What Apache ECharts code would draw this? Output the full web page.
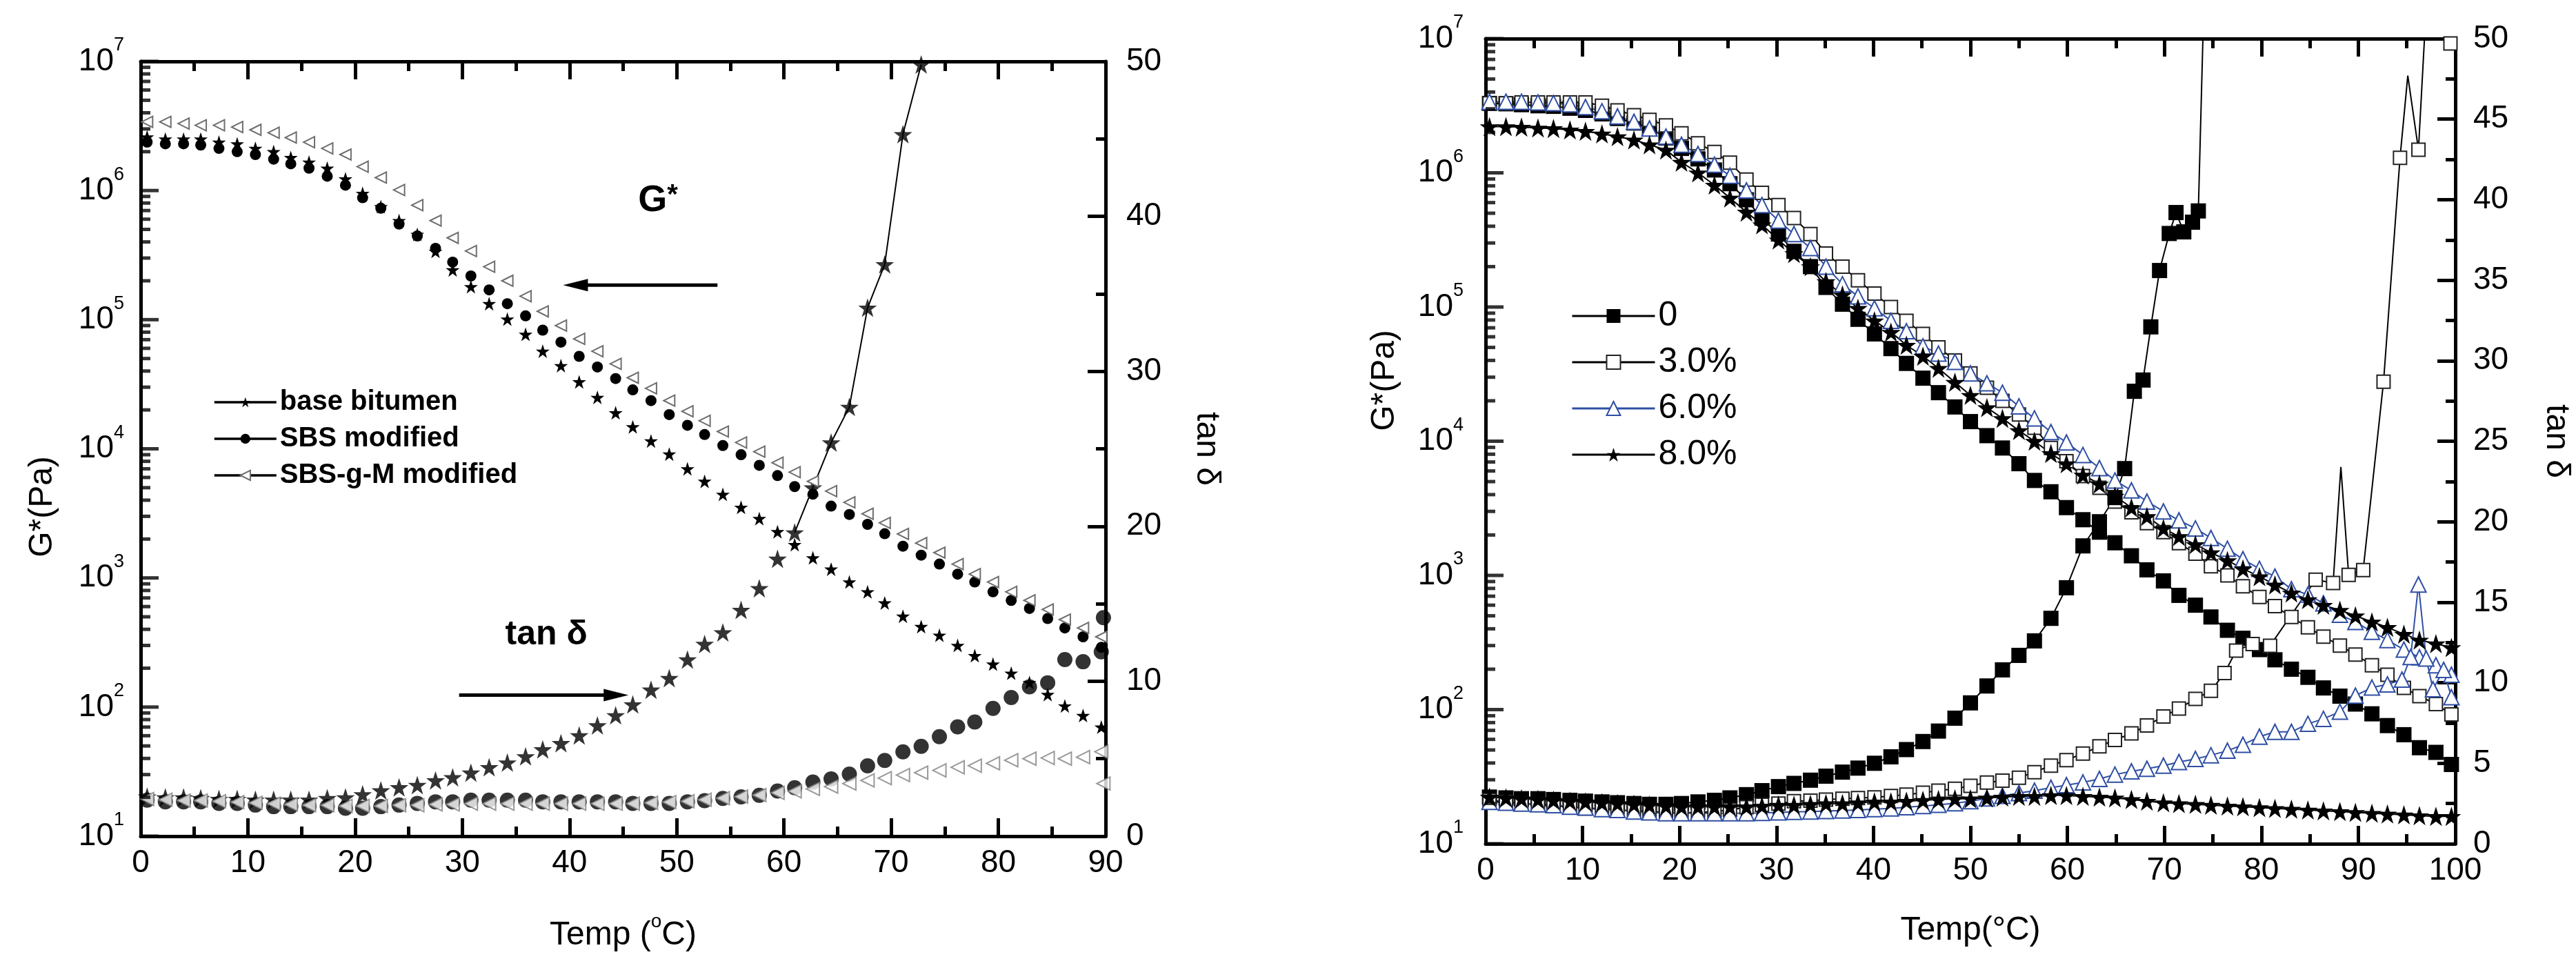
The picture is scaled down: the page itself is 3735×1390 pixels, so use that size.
<!DOCTYPE html>
<html>
<head>
<meta charset="utf-8">
<script src="https://cdn.jsdelivr.net/npm/echarts@6/dist/echarts.min.js"></script>
<style>
  html, body { margin: 0; padding: 0; background: #fff; }
  #chart { width: 3735px; height: 1390px; }
</style>
</head>
<body>
<div id="chart"></div>
<script>
const FONT = "'Liberation Sans', Arial, Helvetica, sans-serif";
const STAR = 'path://M50 0L61.8 35.1H98.5L68.8 56.7L80.2 91.5L50 70L19.8 91.5L31.2 56.7L1.5 35.1H38.2Z';
const BLUE = '#2f4fa4';
const GREY = '#808080';

// ---- left panel: base / SBS / SBS-g-M ----
const tempL = [0.6, 2.3, 4.0, 5.6, 7.3, 9.0, 10.7, 12.4, 14.0, 15.7, 17.4, 19.1, 20.7, 22.4, 24.1, 25.8, 27.5, 29.1,
  30.8, 32.5, 34.2, 35.9, 37.5, 39.2, 40.9, 42.6, 44.3, 45.9, 47.6, 49.3, 51.0, 52.6, 54.3, 56.0, 57.7, 59.4,
  61.0, 62.7, 64.4, 66.1, 67.8, 69.4, 71.1, 72.8, 74.5, 76.2, 77.8, 79.5, 81.2, 82.9, 84.6, 86.2, 87.9, 89.6];

const gBase = [2.6e6, 2.5e6, 2.5e6, 2.5e6, 2.37e6, 2.3e6, 2.12e6, 2.0e6, 1.8e6, 1.66e6, 1.49e6, 1.23e6, 9.5e5, 7.5e5,
  5.85e5, 4.57e5, 3.38e5, 2.43e5, 1.8e5, 1.33e5, 1.01e5, 7.7e4, 5.7e4, 4.4e4, 3.3e4, 2.5e4, 1.9e4, 1.48e4, 1.15e4,
  9.1e3, 7.0e3, 5.6e3, 4.44e3, 3.52e3, 2.88e3, 2.28e3, 1.81e3, 1.43e3, 1.17e3, 930, 780, 640, 505, 420, 360, 300,
  250, 215, 183, 155, 125, 102, 86, 70];
const gSBS = [2.37e6, 2.3e6, 2.3e6, 2.25e6, 2.12e6, 2.0e6, 1.9e6, 1.75e6, 1.61e6, 1.49e6, 1.29e6, 1.1e6, 8.8e5, 7.3e5,
  5.5e5, 4.45e5, 3.57e5, 2.79e5, 2.18e5, 1.7e5, 1.33e5, 1.07e5, 8.3e4, 6.7e4, 5.2e4, 4.3e4, 3.5e4, 2.86e4, 2.36e4,
  1.84e4, 1.52e4, 1.29e4, 1.06e4, 9.0e3, 7.45e3, 6.2e3, 5.1e3, 4.45e3, 3.6e3, 3.1e3, 2.6e3, 2.2e3, 1.76e3, 1.5e3,
  1.28e3, 1.07e3, 930, 780, 670, 580, 485, 410, 350, 290];
const gSBSgM = [3.4e6, 3.4e6, 3.3e6, 3.2e6, 3.2e6, 3.1e6, 2.95e6, 2.8e6, 2.57e6, 2.37e6, 2.12e6, 1.9e6, 1.53e6, 1.26e6,
  1.01e6, 7.7e5, 5.85e5, 4.3e5, 3.4e5, 2.57e5, 2.0e5, 1.52e5, 1.16e5, 9.0e4, 7.1e4, 5.7e4, 4.55e4, 3.55e4, 2.94e4,
  2.36e4, 1.95e4, 1.65e4, 1.36e4, 1.12e4, 9.5e3, 7.8e3, 6.6e3, 5.6e3, 4.7e3, 3.85e3, 3.14e3, 2.67e3, 2.19e3, 1.86e3,
  1.57e3, 1.28e3, 1.07e3, 930, 780, 670, 570, 476, 410, 350];

const tBase = [2.55, 2.5, 2.5, 2.45, 2.4, 2.4, 2.35, 2.35, 2.35, 2.35, 2.45, 2.5, 2.7, 2.95, 3.15, 3.3, 3.6, 3.8, 4.1,
  4.45, 4.75, 5.15, 5.6, 6.0, 6.5, 7.15, 7.8, 8.5, 9.45, 10.2, 11.4, 12.4, 13.15, 14.6, 16.0, 17.9, 19.6, 22.5, 25.4,
  27.7, 34.1, 36.9, 45.3, 49.8];
const tSBS = [2.33, 2.22, 2.22, 2.22, 2.12, 2.12, 2.01, 1.91, 1.91, 1.91, 1.91, 1.8, 1.8, 1.91, 2.01, 2.12, 2.22, 2.22,
  2.33, 2.33, 2.33, 2.33, 2.22, 2.22, 2.22, 2.22, 2.22, 2.12, 2.12, 2.12, 2.22, 2.29, 2.44, 2.54, 2.64, 2.92, 3.13,
  3.49, 3.7, 4.01, 4.54, 4.89, 5.44, 5.8, 6.42, 7.06, 7.37, 8.25, 8.95, 9.64, 9.9, 11.4, 11.26, 11.9];
const tSBSgM = [2.4, 2.35, 2.3, 2.3, 2.25, 2.2, 2.15, 2.1, 2.05, 2.0, 2.0, 1.95, 1.95, 1.95, 2.0, 2.0, 2.05, 2.05, 2.1,
  2.1, 2.1, 2.1, 2.1, 2.1, 2.1, 2.1, 2.1, 2.1, 2.15, 2.2, 2.25, 2.35, 2.45, 2.55, 2.65, 2.8, 2.9, 3.05, 3.2, 3.4,
  3.6, 3.75, 3.95, 4.1, 4.25, 4.45, 4.55, 4.7, 4.9, 5.0, 5.05, 5.0, 5.1, 5.45];
const tSBSExtra = [[89.8, 14.1]];
const tSBSgMExtra = [[89.8, 3.4]];
const baseLineFrom = 36; // tan delta of base bitumen is joined by a line from here on

// ---- right panel: 0 / 3.0% / 6.0% / 8.0% ----
const tempR = [0.4, 2.1, 3.7, 5.4, 7.0, 8.7, 10.3, 12.0, 13.6, 15.3, 16.9, 18.6, 20.2, 21.9, 23.6, 25.2, 26.9, 28.5,
  30.2, 31.8, 33.5, 35.1, 36.8, 38.4, 40.1, 41.8, 43.4, 45.1, 46.7, 48.4, 50.0, 51.7, 53.3, 55.0, 56.6, 58.3, 59.9,
  61.6, 63.3, 64.9, 66.6, 68.2, 69.9, 71.5, 73.2, 74.8, 76.5, 78.1, 79.8, 81.4, 83.1, 84.8, 86.4, 88.1, 89.7, 91.4,
  93.0, 94.7, 96.3, 98.0, 99.6];

const g0 = [3.29e6, 3.27e6, 3.22e6, 3.16e6, 3.13e6, 3.03e6, 2.92e6, 2.75e6, 2.54e6, 2.35e6, 2.17e6, 1.82e6, 1.52e6,
  1.27e6, 1.05e6, 8.3e5, 6.3e5, 4.6e5, 3.5e5, 2.6e5, 2.0e5, 1.4e5, 1.05e5, 8.1e4, 6.3e4, 4.9e4, 3.8e4, 2.95e4, 2.3e4,
  1.8e4, 1.4e4, 1.1e4, 8.9e3, 6.8e3, 5.1e3, 4.2e3, 3.2e3, 2.6e3, 2.1e3, 1.75e3, 1.4e3, 1.1e3, 910, 710, 600, 490,
  390, 340, 280, 235, 200, 174, 145, 126, 110, 93, 76, 65, 52, 48, 39];
const g3 = [3.3e6, 3.3e6, 3.35e6, 3.35e6, 3.35e6, 3.35e6, 3.35e6, 3.16e6, 2.92e6, 2.69e6, 2.48e6, 2.26e6, 1.97e6,
  1.66e6, 1.43e6, 1.19e6, 8.9e5, 7.1e5, 5.75e5, 4.6e5, 3.5e5, 2.5e5, 2.0e5, 1.58e5, 1.26e5, 1.0e5, 7.9e4, 6.3e4,
  5.0e4, 4.0e4, 3.2e4, 2.5e4, 2.0e4, 1.58e4, 1.26e4, 8.9e3, 7.1e3, 5.5e3, 4.5e3, 3.55e3, 2.95e3, 2.45e3, 2.1e3,
  1.74e3, 1.45e3, 1.17e3, 1.0e3, 830, 690, 590, 490, 410, 350, 300, 257, 214, 182, 145, 126, 110, 92];
const g6 = [3.39e6, 3.39e6, 3.39e6, 3.35e6, 3.31e6, 3.24e6, 3.09e6, 2.88e6, 2.63e6, 2.4e6, 2.14e6, 1.86e6, 1.62e6,
  1.38e6, 1.15e6, 9.5e5, 7.4e5, 5.75e5, 4.4e5, 3.5e5, 2.75e5, 2.0e5, 1.48e5, 1.2e5, 9.8e4, 7.9e4, 6.6e4, 5.1e4,
  4.5e4, 3.9e4, 3.2e4, 2.7e4, 2.3e4, 1.82e4, 1.48e4, 1.17e4, 9.8e3, 7.9e3, 6.3e3, 5.1e3, 4.3e3, 3.55e3, 3.0e3,
  2.57e3, 2.24e3, 1.9e3, 1.58e3, 1.32e3, 1.12e3, 980, 790, 720, 620, 510, 450, 380, 330, 280, 245, 214, 182];
const g8 = [2.21e6, 2.21e6, 2.19e6, 2.16e6, 2.14e6, 2.09e6, 2.04e6, 1.95e6, 1.86e6, 1.76e6, 1.62e6, 1.48e6, 1.2e6,
  1.0e6, 8.1e5, 6.5e5, 5.1e5, 4.1e5, 3.16e5, 2.5e5, 2.0e5, 1.55e5, 1.23e5, 9.8e4, 7.9e4, 6.5e4, 5.2e4, 4.3e4, 3.5e4,
  2.75e4, 2.2e4, 1.78e4, 1.48e4, 1.2e4, 1.0e4, 8.1e3, 6.8e3, 5.6e3, 4.8e3, 3.9e3, 3.2e3, 2.75e3, 2.24e3, 1.95e3,
  1.7e3, 1.48e3, 1.29e3, 1.12e3, 980, 850, 740, 660, 600, 550, 500, 450, 410, 365, 330, 310, 290];

const t0 = [2.9, 2.85, 2.8, 2.8, 2.75, 2.7, 2.65, 2.6, 2.55, 2.5, 2.45, 2.45, 2.5, 2.6, 2.7, 2.85, 3.05, 3.3, 3.55,
  3.75, 3.95, 4.2, 4.45, 4.7, 5.0, 5.4, 5.85, 6.35, 7.0, 7.8, 8.75, 9.8, 10.8, 11.7, 12.6, 14.0, 15.9, 18.5, 20.0, 21.5];
const t0Tail = [[65.9, 23.3], [66.9, 28.1], [67.8, 28.8], [68.6, 32.1], [69.5, 35.6], [70.5, 37.9], [71.2, 39.2],
  [72.0, 38.0], [72.9, 38.6], [73.5, 39.3], [74.5, 62]];
const t3 = [2.7, 2.6, 2.5, 2.45, 2.35, 2.3, 2.2, 2.15, 2.1, 2.05, 2.0, 1.95, 1.94, 1.94, 2.0, 2.1, 2.27, 2.42, 2.5,
  2.65, 2.68, 2.74, 2.8, 2.84, 2.88, 2.97, 3.05, 3.17, 3.3, 3.42, 3.6, 3.8, 3.92, 4.1, 4.45, 4.85, 5.2, 5.6, 6.05,
  6.45, 6.85, 7.35, 7.9, 8.4, 9.0, 9.5];
const t3Tail = [[76.2, 10.6], [77.4, 12.0], [79.1, 12.4], [80.9, 12.3], [85.6, 16.4], [87.4, 16.2], [88.2, 23.4],
  [89.0, 16.7], [90.5, 17.0], [92.6, 28.7], [94.3, 42.6], [95.1, 47.7], [96.2, 43.1], [97.9, 62], [99.5, 49.7]];
const t3Bare = [88.2, 95.1]; // line vertices drawn without a marker
const t6 = [2.6, 2.55, 2.5, 2.45, 2.4, 2.3, 2.25, 2.15, 2.1, 2.0, 1.95, 1.9, 1.9, 1.9, 1.9, 1.9, 1.9, 1.92, 1.95,
  1.98, 2.0, 2.03, 2.07, 2.1, 2.15, 2.2, 2.27, 2.35, 2.42, 2.52, 2.65, 2.82, 2.98, 3.15, 3.3, 3.48, 3.64, 3.81,
  4.03, 4.3, 4.5, 4.66, 4.85, 5.08, 5.27, 5.5, 5.78, 6.15, 6.65, 6.95, 6.95, 7.45, 7.76, 8.2, 9.2, 9.7, 9.9];
const t6Tail = [[94.5, 10.2], [95.4, 11.6], [96.2, 16.1], [97.0, 11.5], [97.7, 9.6], [98.8, 10.8], [99.6, 9.1]];
const t8 = [2.9, 2.85, 2.8, 2.75, 2.7, 2.65, 2.6, 2.55, 2.5, 2.45, 2.4, 2.35, 2.3, 2.3, 2.3, 2.3, 2.3, 2.35, 2.4,
  2.4, 2.45, 2.5, 2.5, 2.55, 2.6, 2.6, 2.65, 2.7, 2.75, 2.8, 2.8, 2.85, 2.9, 2.95, 2.95, 3.0, 3.0, 2.95, 2.9, 2.85,
  2.75, 2.65, 2.55, 2.5, 2.45, 2.4, 2.35, 2.3, 2.25, 2.2, 2.15, 2.1, 2.05, 2.0, 1.95, 1.9, 1.85, 1.8, 1.75, 1.7, 1.7];

function pairs(temps, vals) {
  return vals.map((v, i) => [temps[i], v]);
}

// decade and sub-decade tick values of the log axes
const decades = [1e1, 1e2, 1e3, 1e4, 1e5, 1e6, 1e7];
const minorLog = [];
for (let d = 1; d < 7; d++) for (let m = 2; m < 10; m++) minorLog.push(m * Math.pow(10, d));

const black = { color: '#000', width: 5 };
const tickMajor = () => ({ show: true, inside: true, length: 26, lineStyle: { color: '#000', width: 5 } });
const tickMinor = () => ({ show: true, splitNumber: 2, length: 14, lineStyle: { color: '#000', width: 5 } });

function xAxis(gridIndex, max, position) {
  return {
    type: 'value', gridIndex, min: 0, max, interval: 10, position,
    axisLine: { show: true, onZero: false, lineStyle: black },
    axisTick: tickMajor(), minorTick: tickMinor(),
    axisLabel: { show: position === 'bottom', color: '#000', fontSize: 46, fontFamily: FONT, margin: 16 },
    splitLine: { show: false }, minorSplitLine: { show: false }
  };
}
function logAxis(gridIndex, margin, nameGap, namePad) {
  return {
    type: 'log', gridIndex, logBase: 10, min: 10, max: 1e7, position: 'left',
    axisLine: { show: true, onZero: false, lineStyle: black },
    axisTick: { show: false },
    axisLabel: {
      margin, color: '#000',
      formatter: v => '{b|10}{s|' + Math.round(Math.log10(v)) + '}',
      rich: {
        b: { fontSize: 46, fontFamily: FONT, color: '#000' },
        s: { fontSize: 27, fontFamily: FONT, color: '#000', padding: [0, 0, 46, 0] }
      }
    },
    splitLine: { show: false },
    name: 'G*(Pa)', nameLocation: 'middle', nameRotate: 90, nameGap,
    nameTextStyle: { fontSize: 48, fontFamily: FONT, color: '#000', padding: namePad }
  };
}
function tanAxis(gridIndex, step, margin, nameGap) {
  return {
    type: 'value', gridIndex, min: 0, max: 50, interval: step, position: 'right',
    axisLine: { show: true, onZero: false, lineStyle: black },
    axisTick: tickMajor(), minorTick: tickMinor(),
    axisLabel: { margin, color: '#000', fontSize: 46, fontFamily: FONT },
    splitLine: { show: false }, minorSplitLine: { show: false },
    name: 'tan δ', nameLocation: 'middle', nameRotate: -90, nameGap,
    nameTextStyle: { fontSize: 48, fontFamily: FONT, color: '#000' }
  };
}
// inward ticks of a log axis, drawn as short bars sitting on the axis line
function logTickSeries(xi, yi, values, len) {
  return {
    type: 'scatter', xAxisIndex: xi, yAxisIndex: yi, silent: true, clip: false, z: 20,
    data: values.map(v => [0, v]),
    symbol: 'rect', symbolSize: [len, 5], symbolOffset: [len / 2, 0],
    itemStyle: { color: '#000' }
  };
}

const chart = echarts.init(document.getElementById('chart'));

const nameStyleL = { fontSize: 48, fontFamily: FONT, color: '#000',
  rich: { s: { fontSize: 28, fontFamily: FONT, color: '#000', padding: [0, 0, 40, 0] } } };

const option = {
  animation: false,
  backgroundColor: '#fff',
  textStyle: { fontFamily: FONT },
  grid: [
    { left: 204, top: 89, width: 1399, height: 1123 },
    { left: 2154, top: 56, width: 1406, height: 1167 }
  ],
  xAxis: [
    Object.assign(xAxis(0, 90, 'bottom'), { name: 'Temp ({s|o}C)', nameLocation: 'middle', nameGap: 110,
      nameTextStyle: nameStyleL }),
    xAxis(0, 90, 'top'),
    Object.assign(xAxis(1, 100, 'bottom'), { name: 'Temp(°C)', nameLocation: 'middle', nameGap: 102,
      nameTextStyle: { fontSize: 48, fontFamily: FONT, color: '#000' } }),
    xAxis(1, 100, 'top')
  ],
  yAxis: [
    logAxis(0, 24, 118, [0, 168, 0, 0]),
    tanAxis(0, 10, 30, 122),
    logAxis(1, 32, 122, [0, 0, 0, 176]),
    tanAxis(1, 5, 26, 122)
  ],
  legend: [
    {
      data: ['base bitumen', 'SBS modified', 'SBS-g-M modified'],
      orient: 'vertical', left: 304, top: 558, itemWidth: 90, itemHeight: 18, itemGap: 13,
      textStyle: { fontSize: 40, fontWeight: 'bold', fontFamily: FONT, color: '#000' },
      lineStyle: { opacity: 1, width: 3.5, color: '#000' }
    },
    {
      data: ['0', '3.0%', '6.0%', '8.0%'],
      orient: 'vertical', left: 2273, top: 428, itemWidth: 120, itemHeight: 25, itemGap: 17,
      textStyle: { fontSize: 50, fontFamily: FONT, color: '#000' },
      lineStyle: { opacity: 1, width: 3 }
    }
  ],
  series: [
    // left panel, G*
    { name: 'base bitumen', type: 'line', xAxisIndex: 0, yAxisIndex: 0, data: pairs(tempL, gBase),
      symbol: STAR, symbolSize: 20, itemStyle: { color: '#000' }, lineStyle: { color: '#000', opacity: 0 } },
    { name: 'SBS modified', type: 'line', xAxisIndex: 0, yAxisIndex: 0, data: pairs(tempL, gSBS),
      symbol: 'circle', symbolSize: 16, itemStyle: { color: '#000' }, lineStyle: { color: '#000', opacity: 0 } },
    { name: 'SBS-g-M modified', type: 'line', xAxisIndex: 0, yAxisIndex: 0, data: pairs(tempL, gSBSgM),
      symbol: 'emptyTriangle', symbolRotate: 90, symbolSize: 16,
      itemStyle: { color: '#6e6e6e', borderWidth: 2.5 }, lineStyle: { color: '#000', opacity: 0 } },
    // left panel, tan delta
    { name: 'base bitumen', type: 'scatter', xAxisIndex: 0, yAxisIndex: 1, data: pairs(tempL, tBase),
      symbol: STAR, symbolSize: 27, itemStyle: { color: '#000' } },
    { name: 'base-line', type: 'line', xAxisIndex: 0, yAxisIndex: 1,
      data: pairs(tempL, tBase).slice(baseLineFrom), symbol: 'none', lineStyle: { color: '#000', width: 2 } },
    { name: 'SBS modified', type: 'scatter', xAxisIndex: 0, yAxisIndex: 1,
      data: pairs(tempL, tSBS).concat(tSBSExtra), symbol: 'circle', symbolSize: 22, itemStyle: { color: '#000' } },
    { name: 'SBS-g-M modified', type: 'scatter', xAxisIndex: 0, yAxisIndex: 1,
      data: pairs(tempL, tSBSgM).concat(tSBSgMExtra), symbol: 'emptyTriangle', symbolRotate: 90, symbolSize: 19,
      itemStyle: { color: GREY, borderWidth: 2.5 } },
    logTickSeries(0, 0, decades, 26),
    logTickSeries(0, 0, minorLog, 14),

    // right panel, G*
    { name: '0', type: 'line', xAxisIndex: 2, yAxisIndex: 2, data: pairs(tempR, g0),
      symbol: 'rect', symbolSize: 22, itemStyle: { color: '#000' }, lineStyle: { color: '#000', width: 2 } },
    { name: '3.0%', type: 'line', xAxisIndex: 2, yAxisIndex: 2, data: pairs(tempR, g3),
      symbol: 'emptyRect', symbolSize: 19, itemStyle: { color: '#222', borderWidth: 2.5 },
      lineStyle: { color: '#000', width: 2 } },
    { name: '6.0%', type: 'line', xAxisIndex: 2, yAxisIndex: 2, data: pairs(tempR, g6),
      symbol: 'emptyTriangle', symbolSize: 22, itemStyle: { color: BLUE, borderWidth: 4.5 },
      lineStyle: { color: BLUE, width: 2 } },
    { name: '8.0%', type: 'line', xAxisIndex: 2, yAxisIndex: 2, data: pairs(tempR, g8),
      symbol: STAR, symbolSize: 28, itemStyle: { color: '#000' }, lineStyle: { color: '#000', width: 2 } },
    // right panel, tan delta
    { name: '0', type: 'line', xAxisIndex: 2, yAxisIndex: 3, data: pairs(tempR, t0).concat(t0Tail),
      symbol: 'rect', symbolSize: 22, itemStyle: { color: '#000' }, lineStyle: { color: '#000', width: 2 } },
    { name: '3.0%', type: 'line', xAxisIndex: 2, yAxisIndex: 3, data: pairs(tempR, t3).concat(t3Tail),
      symbol: 'emptyRect', symbolSize: v => (t3Bare.indexOf(v[0]) >= 0 ? 0 : 19),
      itemStyle: { color: '#222', borderWidth: 2.5 }, lineStyle: { color: '#000', width: 2 } },
    { name: '6.0%', type: 'line', xAxisIndex: 2, yAxisIndex: 3, data: pairs(tempR, t6).concat(t6Tail),
      symbol: 'emptyTriangle', symbolSize: 22, itemStyle: { color: BLUE, borderWidth: 4.5 },
      lineStyle: { color: BLUE, width: 2 } },
    { name: '8.0%', type: 'line', xAxisIndex: 2, yAxisIndex: 3, data: pairs(tempR, t8),
      symbol: STAR, symbolSize: 28, itemStyle: { color: '#000' }, lineStyle: { color: '#000', width: 2 } },
    logTickSeries(2, 2, decades, 26),
    logTickSeries(2, 2, minorLog, 14)
  ]
};
chart.setOption(option);

// annotations of the left panel, placed in data coordinates
const gArrow = [[53.8, 1.85e5], [39.4, 1.85e5]];
const tanArrow = [[29.7, 9.1], [45.5, 9.1]];
const gLabelAt = [46.4, 8.3e5];
const tanLabelAt = [34.0, 13.0];

const toPx = (yi, pt) => chart.convertToPixel({ xAxisIndex: 0, yAxisIndex: yi }, pt);
function arrow(a, b) {
  const dir = Math.sign(b[0] - a[0]);
  const head = 36, half = 9;
  return [
    { type: 'line', shape: { x1: a[0], y1: a[1], x2: b[0] - dir * head * 0.6, y2: b[1] },
      style: { stroke: '#000', lineWidth: 5 } },
    { type: 'polygon', shape: { points: [[b[0], b[1]], [b[0] - dir * head, b[1] - half], [b[0] - dir * head, b[1] + half]] },
      style: { fill: '#000' } }
  ];
}
const ga = gArrow.map(p => toPx(0, p));
const ta = tanArrow.map(p => toPx(1, p));
const gl = toPx(0, gLabelAt);
const tl = toPx(1, tanLabelAt);

chart.setOption({
  graphic: [
    ...arrow(ga[0], ga[1]),
    ...arrow(ta[0], ta[1]),
    { type: 'text', x: gl[0], y: gl[1], style: {
      text: '{g|G}{s|*}', verticalAlign: 'middle',
      rich: { g: { fontSize: 54, fontWeight: 'bold', fontFamily: FONT, fill: '#000' },
              s: { fontSize: 40, fontWeight: 'bold', fontFamily: FONT, fill: '#000', padding: [0, 0, 14, 0] } } } },
    { type: 'text', x: tl[0], y: tl[1], style: {
      text: 'tan δ', verticalAlign: 'middle', font: 'bold 50px ' + FONT, fill: '#000' } }
  ]
});
</script>
</body>
</html>
